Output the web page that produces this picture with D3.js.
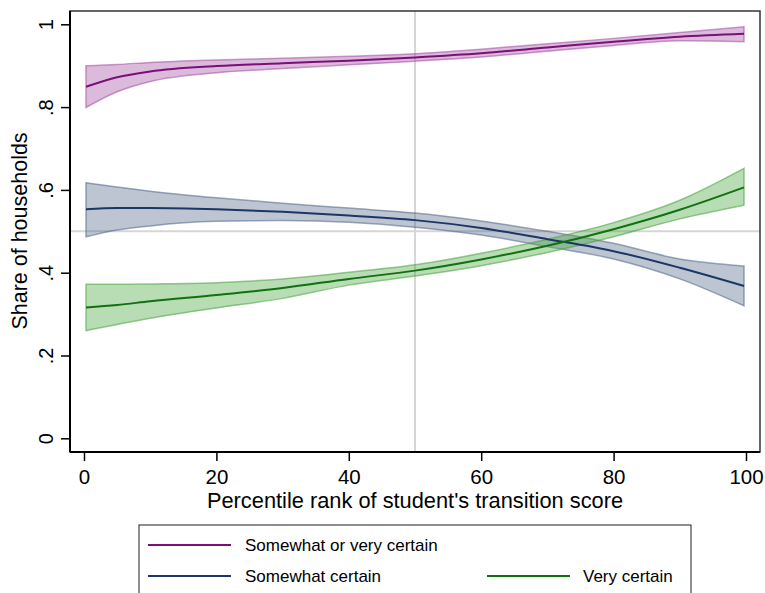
<!DOCTYPE html>
<html>
<head>
<meta charset="utf-8">
<script src="https://cdn.jsdelivr.net/npm/d3@7"></script>
<style>
  body { margin: 0; background: #fff; }
  svg { display: block; }
  text { font-family: "Liberation Sans", Arial, Helvetica, sans-serif; fill: #000; }
</style>
</head>
<body>
<svg id="chart" width="765" height="593"></svg>
<script>
// ---- data ----
const xs = [0.3, 5, 10, 20, 30, 40, 50, 60, 70, 80, 90, 99.7];

const anyMid = [0.849, 0.872, 0.886, 0.899, 0.906, 0.912, 0.920, 0.930, 0.944, 0.958, 0.970, 0.977];
const anyHi  = [0.900, 0.903, 0.908, 0.914, 0.918, 0.923, 0.929, 0.940, 0.953, 0.966, 0.980, 0.994];
const anyLo  = [0.799, 0.837, 0.862, 0.883, 0.893, 0.902, 0.911, 0.921, 0.935, 0.949, 0.960, 0.958];

const someMid = [0.553, 0.556, 0.556, 0.553, 0.547, 0.538, 0.527, 0.508, 0.481, 0.452, 0.412, 0.368];
const someHi  = [0.617, 0.607, 0.597, 0.581, 0.568, 0.556, 0.544, 0.525, 0.500, 0.471, 0.433, 0.416];
const someLo  = [0.487, 0.503, 0.513, 0.524, 0.526, 0.522, 0.510, 0.491, 0.463, 0.433, 0.385, 0.320];

const veryMid = [0.316, 0.322, 0.331, 0.346, 0.363, 0.385, 0.405, 0.432, 0.465, 0.505, 0.552, 0.606];
const veryHi  = [0.372, 0.372, 0.373, 0.376, 0.385, 0.401, 0.419, 0.447, 0.481, 0.521, 0.575, 0.652];
const veryLo  = [0.260, 0.275, 0.290, 0.315, 0.338, 0.370, 0.392, 0.417, 0.449, 0.487, 0.530, 0.563];

const xTicks = [0, 20, 40, 60, 80, 100];
const yTicks = [0, 0.2, 0.4, 0.6, 0.8, 1];
const yTickLabels = ["0", ".2", ".4", ".6", ".8", "1"];
const refX = 50, refY = 0.5;

const seriesNames = ["Somewhat or very certain", "Somewhat certain", "Very certain"];
const lineColors = ["#7a0f7a", "#1c3766", "#0f720f"];
const bandFill   = ["#a24aa2", "#4e6685", "#45a33a"];
const bandEdge   = ["#a24aa2", "#4e6685", "#45a33a"];

const series = [
  { mid: anyMid, hi: anyHi, lo: anyLo },
  { mid: someMid, hi: someHi, lo: someLo },
  { mid: veryMid, hi: veryHi, lo: veryLo }
];

// ---- layout ----
const svg = d3.select("#chart");
const frame = { left: 70, right: 760, top: 11, bottom: 452 };
const x = d3.scaleLinear().domain([0, 100]).range([84, 746]);
const y = d3.scaleLinear().domain([0, 1]).range([438.3, 24.3]);

// reference lines
svg.append("line")
  .attr("x1", x(refX)).attr("x2", x(refX))
  .attr("y1", frame.top).attr("y2", frame.bottom)
  .attr("stroke", "#d6d6d6").attr("stroke-width", 2);
svg.append("line")
  .attr("x1", frame.left).attr("x2", frame.right)
  .attr("y1", y(refY)).attr("y2", y(refY))
  .attr("stroke", "#d6d6d6").attr("stroke-width", 2);

// bands
const area = d3.area().curve(d3.curveMonotoneX)
  .x(d => x(d.x)).y0(d => y(d.lo)).y1(d => y(d.hi));
const line = d3.line().curve(d3.curveMonotoneX)
  .x(d => x(d.x)).y(d => y(d.v));

series.forEach((s, i) => {
  const pts = xs.map((xv, j) => ({ x: xv, lo: s.lo[j], hi: s.hi[j] }));
  svg.append("path").datum(pts)
    .attr("d", area)
    .attr("fill", bandFill[i]).attr("fill-opacity", 0.38)
    .attr("stroke", bandEdge[i]).attr("stroke-opacity", 0.55)
    .attr("stroke-width", 1.5);
});
series.forEach((s, i) => {
  const pts = xs.map((xv, j) => ({ x: xv, v: s.mid[j] }));
  svg.append("path").datum(pts)
    .attr("d", line)
    .attr("fill", "none")
    .attr("stroke", lineColors[i]).attr("stroke-width", 2);
});

// frame
svg.append("rect")
  .attr("x", frame.left).attr("y", frame.top)
  .attr("width", frame.right - frame.left).attr("height", frame.bottom - frame.top)
  .attr("fill", "none").attr("stroke", "#333").attr("stroke-width", 1.5);

const FONT = "'Liberation Sans', Arial, sans-serif";

// x axis
const xAxis = svg.append("g")
  .attr("transform", `translate(0,${frame.bottom})`)
  .call(d3.axisBottom(x).tickValues(xTicks).tickSize(9).tickFormat(d3.format("d")));
xAxis.select(".domain")
  .attr("d", `M${frame.left},0H${frame.right}`)
  .attr("stroke", "#000").attr("stroke-width", 2);
xAxis.selectAll(".tick line").attr("stroke", "#000").attr("stroke-width", 1.5);
xAxis.selectAll(".tick text")
  .attr("font-size", 20.5).attr("dy", null).attr("y", 31.5)
  .style("font-family", FONT).attr("fill", "#000");

// y axis
const yAxis = svg.append("g")
  .attr("transform", `translate(${frame.left},0)`)
  .call(d3.axisLeft(y).tickValues(yTicks).tickSize(9)
    .tickFormat((d, i) => yTickLabels[i]));
yAxis.select(".domain")
  .attr("d", `M0,${frame.top}V${frame.bottom}`)
  .attr("stroke", "#000").attr("stroke-width", 2);
yAxis.selectAll(".tick line").attr("stroke", "#000").attr("stroke-width", 1.5);
yAxis.selectAll(".tick text")
  .attr("x", null).attr("dy", null)
  .attr("text-anchor", "middle")
  .attr("font-size", 20)
  .attr("transform", "translate(-16.8,0) rotate(-90)")
  .style("font-family", FONT).attr("fill", "#000");

// axis titles
svg.append("text")
  .attr("transform", `translate(${(frame.left + frame.right) / 2},507.5)`)
  .attr("text-anchor", "middle").attr("font-size", 21.8)
  .text("Percentile rank of student's transition score");
svg.append("text")
  .attr("transform", `translate(27,231) rotate(-90)`)
  .attr("text-anchor", "middle").attr("font-size", 21.5)
  .text("Share of households");

// legend
const lg = svg.append("g");
lg.append("rect")
  .attr("x", 139).attr("y", 525).attr("width", 552).attr("height", 90)
  .attr("fill", "#fff").attr("stroke", "#444").attr("stroke-width", 1.2);
const legendPos = [
  { lx: 148, ly: 545, tx: 245 },
  { lx: 148, ly: 576, tx: 245 },
  { lx: 487, ly: 576, tx: 583 }
];
legendPos.forEach((p, i) => {
  lg.append("line")
    .attr("x1", p.lx).attr("x2", p.lx + 83)
    .attr("y1", p.ly).attr("y2", p.ly)
    .attr("stroke", lineColors[i]).attr("stroke-width", 2);
  lg.append("text")
    .attr("transform", `translate(${p.tx},${p.ly + 6})`)
    .attr("font-size", 17)
    .text(seriesNames[i]);
});
</script>
</body>
</html>
